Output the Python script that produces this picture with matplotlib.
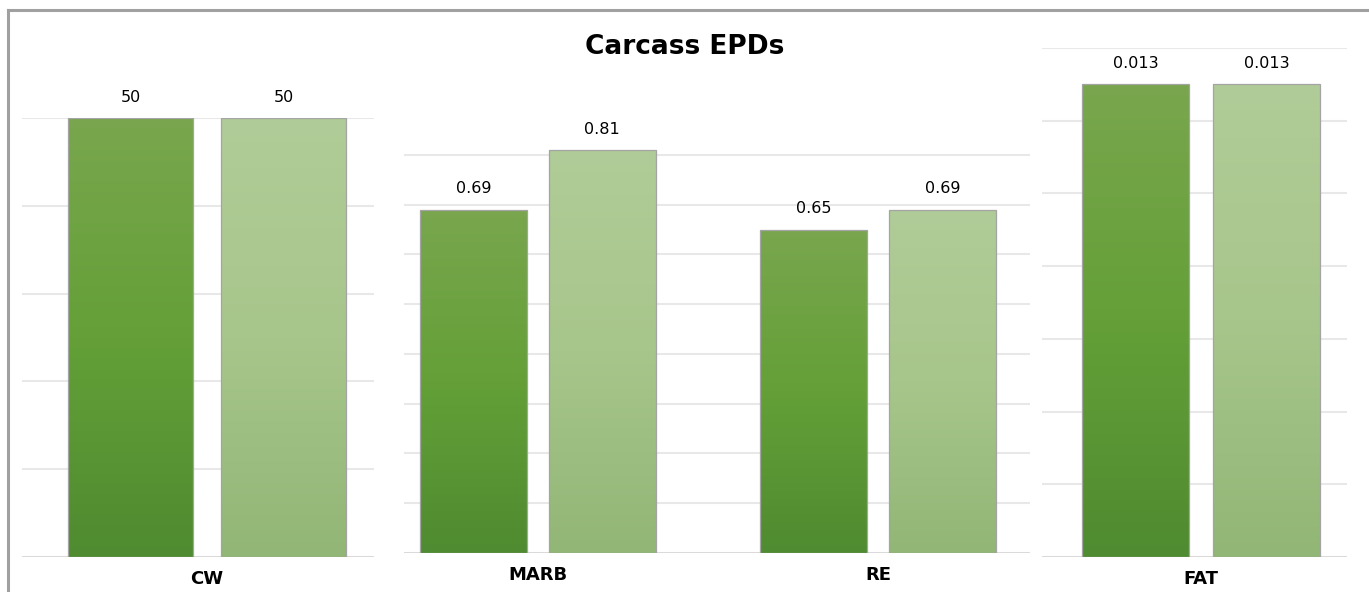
import matplotlib.pyplot as plt
import numpy as np
from matplotlib.colors import LinearSegmentedColormap
from matplotlib.lines import Line2D

# data
title = 'Carcass EPDs'
cw_values = [50, 50]
cw_labels = ['50', '50']
marb_values = [0.69, 0.81]
re_values = [0.65, 0.69]
mid_labels = [['0.69', '0.81'], ['0.65', '0.69']]
fat_values = [0.013, 0.013]
fat_labels = ['0.013', '0.013']

plt.rcParams['font.family'] = ['DejaVu Sans']

dark_cmap = LinearSegmentedColormap.from_list('dark', ['#79a64e', '#64a037', '#4f8b30'])
light_cmap = LinearSegmentedColormap.from_list('light', ['#b0cc98', '#a7c68b', '#92b676'])
grad = np.linspace(0, 1, 256).reshape(-1, 1)

W, H = 1369, 592
fig = plt.figure(figsize=(W / 100, H / 100), dpi=100)


def make_axes(x0, x1, ytop, ybot):
    return fig.add_axes([x0 / W, 1 - ybot / H, (x1 - x0) / W, (ybot - ytop) / H])


def style(ax, yticks, xlim, ylim):
    ax.set_yticks(yticks)
    ax.set_xlim(*xlim)
    ax.set_ylim(*ylim)
    ax.grid(axis='y', color='#e8e8e8', linewidth=1.5)
    ax.set_axisbelow(True)
    for s in ax.spines.values():
        s.set_visible(False)
    ax.axhline(0, color='#d6d6d6', linewidth=1.8, zorder=1)
    ax.tick_params(left=False, bottom=False, labelleft=False)
    ax.tick_params(axis='x', labelsize=13, pad=6)
    for lab in ax.get_xticklabels():
        lab.set_fontweight('bold')


def gradient_bars(ax, x, heights, width, cmap, labels):
    bars = ax.bar(x, heights, width, color='none', edgecolor='#a4a4a4', linewidth=0.9, zorder=3)
    for rect, lab in zip(bars, labels):
        bx, bw, bh = rect.get_x(), rect.get_width(), rect.get_height()
        im = ax.imshow(grad, extent=[bx, bx + bw, 0, bh], aspect='auto', cmap=cmap, zorder=2)
        im.set_clip_path(rect)
        ax.annotate(lab, (bx + bw / 2, bh), xytext=(0, 15), textcoords='offset points',
                    ha='center', va='center', fontsize=11.5)


# CW panel
ax1 = make_axes(22, 374, 118, 557)
gradient_bars(ax1, [0], cw_values[:1], 0.82, dark_cmap, cw_labels[:1])
gradient_bars(ax1, [1], cw_values[1:], 0.82, light_cmap, cw_labels[1:])
ax1.set_xticks([0.5], ['CW'])
style(ax1, np.arange(0, 51, 10), (-0.71, 1.59), (0, 50))

# MARB / RE panel
ax2 = make_axes(404, 1030, 130, 553)
groups = np.arange(2)
gradient_bars(ax2, groups - 0.189, [marb_values[0], re_values[0]], 0.315, dark_cmap,
              [mid_labels[0][0], mid_labels[1][0]])
gradient_bars(ax2, groups + 0.189, [marb_values[1], re_values[1]], 0.315, light_cmap,
              [mid_labels[0][1], mid_labels[1][1]])
ax2.set_xticks(groups, ['MARB', 'RE'])
style(ax2, np.arange(0, 0.81, 0.1), (-0.393, 1.446), (0, 0.85))

# FAT panel
ax3 = make_axes(1042, 1347, 48, 557)
gradient_bars(ax3, [0], fat_values[:1], 0.817, dark_cmap, fat_labels[:1])
gradient_bars(ax3, [1], fat_values[1:], 0.817, light_cmap, fat_labels[1:])
ax3.set_xticks([0.5], ['FAT'])
style(ax3, np.arange(0, 0.0141, 0.002), (-0.714, 1.615), (0, 0.014))

fig.text(685 / W, 1 - 47 / H, title, ha='center', va='center', fontsize=19, fontweight='bold')

# grey frame around the picture
fig.add_artist(Line2D([8 / W, 1], [1 - 10 / H, 1 - 10 / H], color='#a0a0a0', linewidth=2.2))
fig.add_artist(Line2D([8 / W, 8 / W], [0, 1 - 10 / H], color='#a0a0a0', linewidth=2.2))

plt.savefig('out.png', dpi=100)
